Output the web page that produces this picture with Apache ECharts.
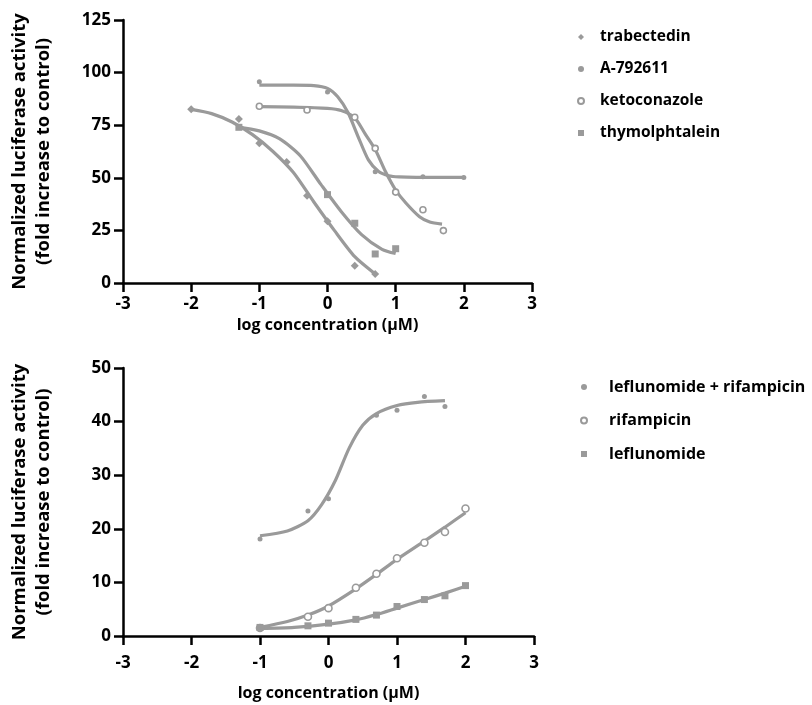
<!DOCTYPE html>
<html><head><meta charset="utf-8">
<script src="https://cdn.jsdelivr.net/npm/echarts/dist/echarts.min.js"></script>
<style>html,body{margin:0;padding:0;background:#fff}#c{width:812px;height:705px}</style>
</head><body><div id="c"></div><script>
// ---------- TOP PANEL DATA ----------
const topNames = ['trabectedin', 'A-792611', 'ketoconazole', 'thymolphtalein'];
// measured points
const trabX = [-2, -1.3, -1, -0.6, -0.3, 0, 0.4, 0.7];
const trabY = [82.6, 77.9, 66.4, 57.5, 41.5, 29.3, 8.2, 4.3];
const a79X = [-1, 0, 0.7, 1.4, 2];
const a79Y = [95.7, 90.8, 52.9, 50.5, 50.2];
const ketoX = [-1, -0.3, 0.4, 0.7, 1, 1.4, 1.7];
const ketoY = [84, 82.2, 78.8, 64, 43.2, 34.8, 24.9];
const thymX = [-1.3, 0, 0.4, 0.7, 1];
const thymY = [74, 42, 28.4, 13.8, 16.3];
// fitted curves
const trabFitX = [-2, -1.7, -1.4, -1.1, -0.8, -0.5, -0.2, 0.1, 0.4, 0.7];
const trabFitY = [82.5, 80.5, 76.5, 70.5, 62.5, 52.5, 38.5, 25, 12.5, 4.3];
const a79FitX = [-1, -0.5, -0.2, 0, 0.15, 0.3, 0.45, 0.6, 0.75, 0.9, 1.05, 1.3, 2];
const a79FitY = [94, 94, 93.8, 92.5, 88.5, 81, 69.5, 58.5, 53, 51, 50.4, 50.2, 50.2];
const ketoFitX = [-1, -0.5, 0, 0.2, 0.4, 0.55, 0.7, 0.85, 1.0, 1.15, 1.35, 1.5, 1.68];
const ketoFitY = [83.8, 83.6, 83, 82, 78.5, 71, 63.5, 53, 44.2, 38, 31.5, 29, 28];
const thymFitX = [-1.33, -1, -0.7, -0.4, -0.1, 0.2, 0.5, 0.8, 1.0];
const thymFitY = [74.2, 72.3, 68.5, 60.5, 47, 34, 23, 16, 14];
const topYTicks = [0, 25, 50, 75, 100, 125];

// ---------- BOTTOM PANEL DATA ----------
const botNames = ['leflunomide + rifampicin', 'rifampicin', 'leflunomide'];
const lrX = [-1, -0.3, 0, 0.7, 1, 1.4, 1.7];
const lrY = [18.1, 23.3, 25.6, 41.2, 42.1, 44.7, 42.8];
const rifX = [-1, -0.3, 0, 0.4, 0.7, 1, 1.4, 1.7, 2];
const rifY = [1.5, 3.6, 5.2, 9.0, 11.6, 14.5, 17.4, 19.4, 23.8];
const lefX = [-1, -0.3, 0, 0.4, 0.7, 1, 1.4, 1.7, 2];
const lefY = [1.6, 1.9, 2.4, 3.1, 3.9, 5.5, 6.8, 7.5, 9.4];
const lrFitX = [-1, -0.6, -0.3, -0.1, 0.1, 0.3, 0.5, 0.7, 1.0, 1.3, 1.7];
const lrFitY = [18.7, 19.6, 21.5, 24.5, 29, 35, 39.3, 41.5, 43, 43.6, 43.9];
const rifFitX = [-1, -0.6, -0.3, 0, 0.4, 0.7, 1.0, 1.4, 1.7, 2.0];
const rifFitY = [1.6, 2.7, 3.9, 5.6, 8.8, 11.5, 14.3, 17.7, 20.3, 23];
const lefFitX = [-1, -0.5, 0, 0.4, 0.7, 1.0, 1.4, 1.7, 2.0];
const lefFitY = [1.4, 1.6, 2.2, 3.0, 4.0, 5.2, 6.8, 8.0, 9.3];
const botYTicks = [0, 10, 20, 30, 40, 50];

const xTicks = [-3, -2, -1, 0, 1, 2, 3];
const xName = 'log concentration (\u00b5M)';
const yName = 'Normalized luciferase activity\n(fold increase to control)';

const GRAY = '#9a9a9a';
const FONT = '"Open Sans", "Noto Sans", sans-serif';
const pairs = (xs, ys) => xs.map((x, i) => [x, ys[i]]);

function fitLine(xs, ys, idx) {
  return {
    type: 'line', xAxisIndex: idx, yAxisIndex: idx, data: pairs(xs, ys),
    smooth: 0.25, showSymbol: false, silent: true, z: 2,
    lineStyle: { color: GRAY, width: 3.2 }
  };
}
function pts(name, xs, ys, idx, symbol, size, open) {
  return {
    name, type: 'scatter', xAxisIndex: idx, yAxisIndex: idx, data: pairs(xs, ys),
    symbol, symbolSize: size, z: 3, silent: true,
    itemStyle: open ? { color: '#fff', borderColor: GRAY, borderWidth: 1.6, opacity: 1 }
                    : { color: GRAY, opacity: 1 }
  };
}

function xAxis(idx, labelMargin, nameGap) {
  return {
    gridIndex: idx, type: 'value', min: xTicks[0], max: xTicks[xTicks.length - 1], interval: 1,
    name: xName, nameLocation: 'middle', nameGap: nameGap,
    nameTextStyle: { fontFamily: FONT, fontWeight: 'bold', fontSize: 16, color: '#000' },
    axisLine: { onZero: false, lineStyle: { color: '#000', width: 2.5 } },
    axisTick: { length: 9, lineStyle: { color: '#000', width: 2.5 } },
    axisLabel: { fontFamily: FONT, fontWeight: 'bold', fontSize: 17, color: '#000', margin: labelMargin },
    splitLine: { show: false }
  };
}
function yAxis(idx, ticks) {
  return {
    gridIndex: idx, type: 'value', min: ticks[0], max: ticks[ticks.length - 1],
    interval: ticks[1] - ticks[0],
    name: yName, nameLocation: 'middle', nameGap: 67,
    nameTextStyle: { fontFamily: FONT, fontWeight: 'bold', fontSize: 18.5, color: '#000', lineHeight: 24 },
    axisLine: { show: true, onZero: false, lineStyle: { color: '#000', width: 2.5 } },
    axisTick: { show: true, length: 9, lineStyle: { color: '#000', width: 2.5 } },
    axisLabel: { fontFamily: FONT, fontWeight: 'bold', fontSize: 17, color: '#000', margin: 12 },
    splitLine: { show: false }
  };
}
function legend(names, icons, top, gap, left, fs, pad) {
  return {
    orient: 'vertical', left: left, top: top, itemGap: gap,
    itemWidth: 6, itemHeight: 6, selectedMode: false,
    data: names.map((n, i) => ({ name: n, icon: icons[i] })),
    textStyle: { fontFamily: FONT, fontWeight: 'bold', fontSize: fs, color: '#000', lineHeight: 16, padding: [0, 0, 0, pad] }
  };
}

const chart = echarts.init(document.getElementById('c'), null, { renderer: 'canvas' });
chart.setOption({
  animation: false,
  backgroundColor: '#fff',
  grid: [
    { left: 123, right: 280, top: 20, bottom: 422 },
    { left: 122, right: 278, top: 368, bottom: 69 }
  ],
  xAxis: [xAxis(0, 13, 34), xAxis(1, 19, 49)],
  yAxis: [yAxis(0, topYTicks), yAxis(1, botYTicks)],
  legend: [
    legend(topNames, ['diamond', 'circle', 'circle', 'rect'], 24, 16, 572, 15.5, 11),
    legend(botNames, ['circle', 'circle', 'rect'], 374, 17.5, 575, 16, 17)
  ],
  series: [
    fitLine(trabFitX, trabFitY, 0),
    fitLine(a79FitX, a79FitY, 0),
    fitLine(ketoFitX, ketoFitY, 0),
    fitLine(thymFitX, thymFitY, 0),
    pts(topNames[0], trabX, trabY, 0, 'diamond', 8, false),
    pts(topNames[1], a79X, a79Y, 0, 'circle', 5, false),
    pts(topNames[2], ketoX, ketoY, 0, 'circle', 6, true),
    pts(topNames[3], thymX, thymY, 0, 'rect', 7, false),
    fitLine(lrFitX, lrFitY, 1),
    fitLine(rifFitX, rifFitY, 1),
    fitLine(lefFitX, lefFitY, 1),
    pts(botNames[0], lrX, lrY, 1, 'circle', 5, false),
    pts(botNames[1], rifX, rifY, 1, 'circle', 7, true),
    pts(botNames[2], lefX, lefY, 1, 'rect', 7, false)
  ]
});
</script></body></html>
